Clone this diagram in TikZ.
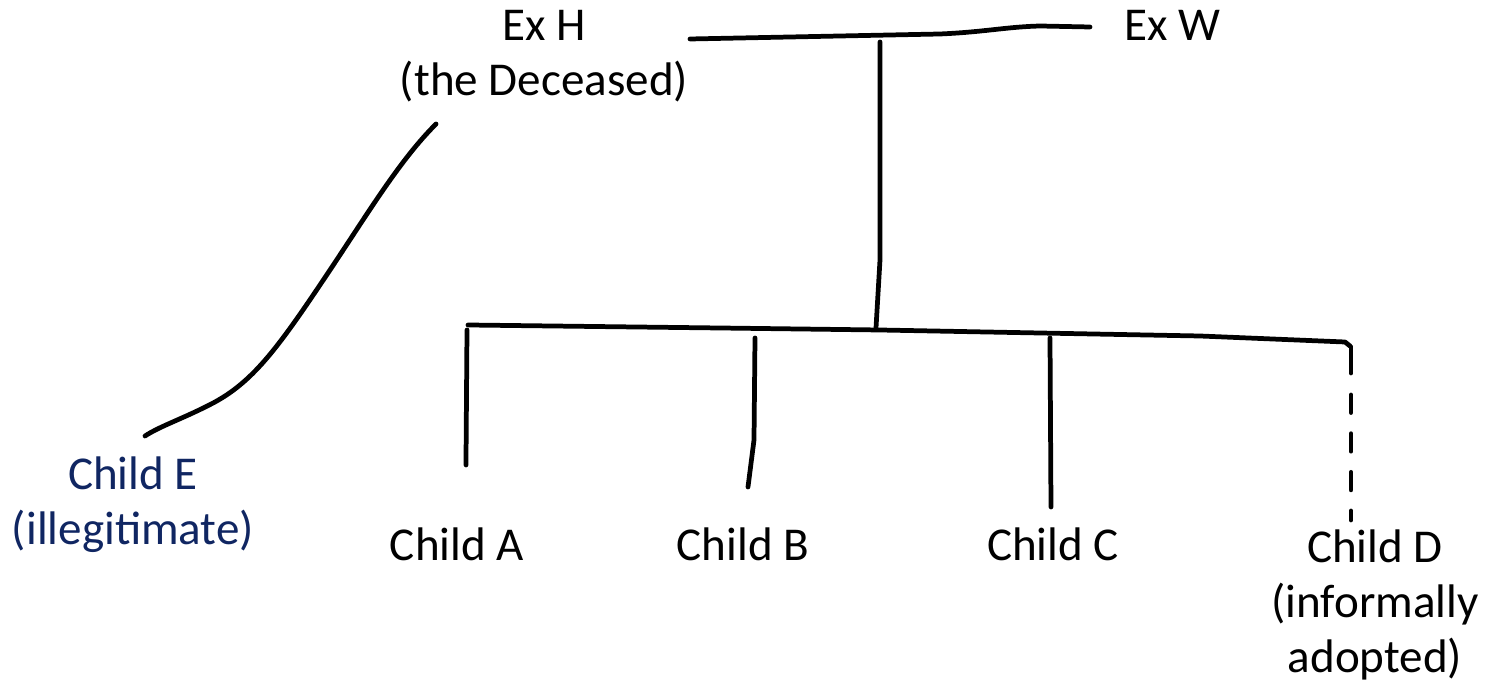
\documentclass[tikz,border=0pt]{standalone}
\usepackage{fontspec}
\setmainfont{Carlito}
\definecolor{navy}{RGB}{16,38,98}
\begin{document}
\begin{tikzpicture}[x=0.02cm,y=-0.02cm,
  person/.style={align=center,font=\fontsize{26.8}{31.5}\selectfont,inner sep=0pt},
  link/.style={line width=2.7pt,line cap=round,line join=round}]
\useasboundingbox (0,0) rectangle (1489,688);
% people
\node[person,anchor=north] (exh) at (544,10) {Ex H\\(the Deceased)};
\node[person,anchor=north] (exw) at (1172,10) {Ex W};
\node[person,anchor=north,text=navy] (ce) at (133,456) {Child E\\(illegitimate)};
\node[person,anchor=north] (ca) at (457,527) {Child A};
\node[person,anchor=north] (cb) at (743,527) {Child B};
\node[person,anchor=north] (cc) at (1053,527) {Child C};
\node[person,anchor=north] (cd) at (1375,529) {Child D\\(informally\\adopted)};
% junction coordinates
\coordinate (m1) at (690,39);
\coordinate (m2) at (1090,27);
\coordinate (v1) at (880,42);
\coordinate (v2) at (876,328);
\coordinate (s1) at (468,325);
\coordinate (a1) at (467,330);
\coordinate (a2) at (466,465);
\coordinate (b1) at (755,338);
\coordinate (b2) at (748,487);
\coordinate (c1) at (1050,338);
\coordinate (c2) at (1051,507);
\coordinate (d1) at (1351,347);
\coordinate (d2) at (1351,520);
\coordinate (e1) at (436,124);
\coordinate (e2) at (145,436);
% marriage
\draw[link] (m1) -- (940,34) .. controls (985,32) and (1005,27) .. (1040,26) -- (m2);
\draw[link] (v1) -- (880,260) -- (v2);
% siblings
\draw[link] (s1) -- (720,328) -- (880,330) -- (1200,336) -- (1345,342) -- (1350,346);
\draw[link] (a1) -- (466,460) -- (a2);
\draw[link] (b1) -- (754,440) -- (b2);
\draw[link] (c1) -- (c2);
\draw[link] (d1) -- (1351,373);
\draw[link,dash pattern=on 10pt off 12pt] (1351,395) -- (d2);
% illegitimate child
\draw[link] (e1) .. controls (400,160) and (370,210) .. (330,270)
  .. controls (280,345) and (255,380) .. (215,402)
  .. controls (185,418) and (160,426) .. (e2);
\end{tikzpicture}
\end{document}
